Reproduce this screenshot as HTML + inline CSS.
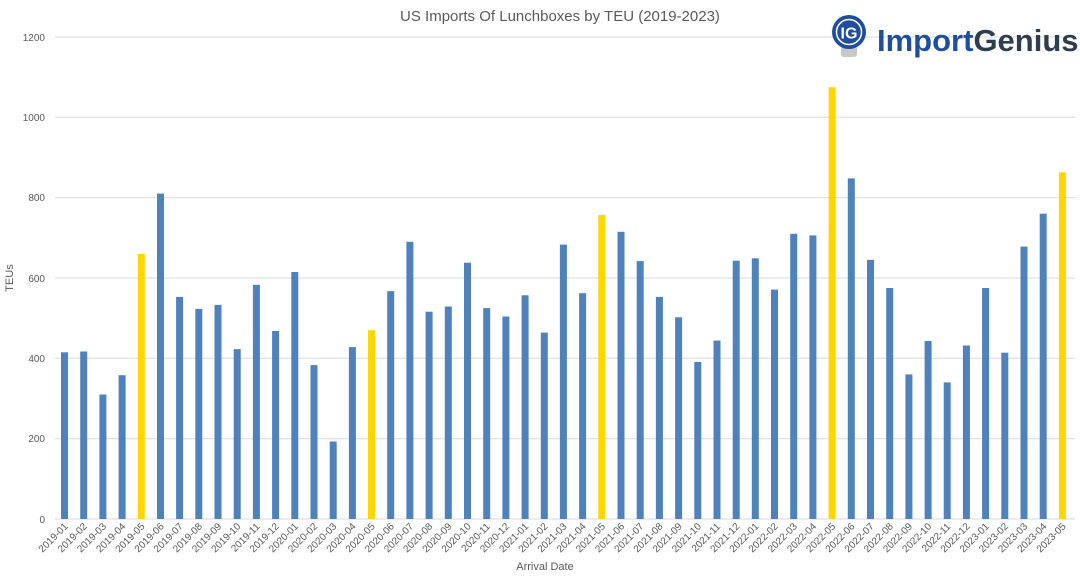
<!DOCTYPE html>
<html><head><meta charset="utf-8"><style>
body{margin:0;background:#fff;}
svg text{font-family:"Liberation Sans",sans-serif;}
</style></head><body>
<svg width="1080" height="574" viewBox="0 0 1080 574" xmlns="http://www.w3.org/2000/svg">
<rect width="1080" height="574" fill="#fff"/>
<text x="560" y="21" font-size="15" fill="#595959" text-anchor="middle">US Imports Of Lunchboxes by TEU (2019-2023)</text>
<g stroke="#d9d9d9" stroke-width="1">
<line x1="55" x2="1075" y1="37" y2="37"/><line x1="55" x2="1075" y1="117.3" y2="117.3"/><line x1="55" x2="1075" y1="197.6" y2="197.6"/><line x1="55" x2="1075" y1="278" y2="278"/><line x1="55" x2="1075" y1="358.3" y2="358.3"/><line x1="55" x2="1075" y1="438.7" y2="438.7"/><line x1="55" x2="1075" y1="519" y2="519"/>
</g>
<g font-size="10" fill="#595959" text-anchor="end">
<text x="45" y="41">1200</text><text x="45" y="121">1000</text><text x="45" y="201">800</text><text x="45" y="282">600</text><text x="45" y="362">400</text><text x="45" y="442">200</text><text x="45" y="523">0</text>
</g>
<text transform="translate(13,278) rotate(-90)" font-size="11" fill="#595959" text-anchor="middle">TEUs</text>
<text x="545" y="570" font-size="11" fill="#595959" text-anchor="middle">Arrival Date</text>
<g fill="#4f81bd">
<rect x="61" y="352.3" width="7" height="166.7"/>
<rect x="80.2" y="351.5" width="7" height="167.5"/>
<rect x="99.4" y="394.5" width="7" height="124.5"/>
<rect x="118.6" y="375.2" width="7" height="143.8"/>
<rect x="137.8" y="253.9" width="7" height="265.1" fill="#ffd700"/>
<rect x="157" y="193.6" width="7" height="325.4"/>
<rect x="176.1" y="296.9" width="7" height="222.1"/>
<rect x="195.3" y="308.9" width="7" height="210.1"/>
<rect x="214.5" y="304.9" width="7" height="214.1"/>
<rect x="233.7" y="349.1" width="7" height="169.9"/>
<rect x="252.9" y="284.8" width="7" height="234.2"/>
<rect x="272.1" y="331" width="7" height="188"/>
<rect x="291.3" y="272" width="7" height="247"/>
<rect x="310.5" y="365.1" width="7" height="153.9"/>
<rect x="329.7" y="441.5" width="7" height="77.5"/>
<rect x="348.9" y="347.1" width="7" height="171.9"/>
<rect x="368" y="330.2" width="7" height="188.8" fill="#ffd700"/>
<rect x="387.2" y="291.2" width="7" height="227.8"/>
<rect x="406.4" y="241.8" width="7" height="277.2"/>
<rect x="425.6" y="311.7" width="7" height="207.3"/>
<rect x="444.8" y="306.5" width="7" height="212.5"/>
<rect x="464" y="262.7" width="7" height="256.3"/>
<rect x="483.2" y="308.1" width="7" height="210.9"/>
<rect x="502.4" y="316.5" width="7" height="202.5"/>
<rect x="521.6" y="295.3" width="7" height="223.7"/>
<rect x="540.8" y="332.6" width="7" height="186.4"/>
<rect x="559.9" y="244.6" width="7" height="274.4"/>
<rect x="579.1" y="293.2" width="7" height="225.8"/>
<rect x="598.3" y="214.9" width="7" height="304.1" fill="#ffd700"/>
<rect x="617.5" y="231.8" width="7" height="287.2"/>
<rect x="636.7" y="261.1" width="7" height="257.9"/>
<rect x="655.9" y="296.9" width="7" height="222.1"/>
<rect x="675.1" y="317.3" width="7" height="201.7"/>
<rect x="694.3" y="361.9" width="7" height="157.1"/>
<rect x="713.5" y="340.6" width="7" height="178.4"/>
<rect x="732.7" y="260.7" width="7" height="258.3"/>
<rect x="751.8" y="258.3" width="7" height="260.7"/>
<rect x="771" y="289.6" width="7" height="229.4"/>
<rect x="790.2" y="233.8" width="7" height="285.2"/>
<rect x="809.4" y="235.4" width="7" height="283.6"/>
<rect x="828.6" y="87.2" width="7" height="431.8" fill="#ffd700"/>
<rect x="847.8" y="178.4" width="7" height="340.6"/>
<rect x="867" y="259.9" width="7" height="259.1"/>
<rect x="886.2" y="288" width="7" height="231"/>
<rect x="905.4" y="374.4" width="7" height="144.6"/>
<rect x="924.6" y="341" width="7" height="178"/>
<rect x="943.7" y="382.4" width="7" height="136.6"/>
<rect x="962.9" y="345.5" width="7" height="173.5"/>
<rect x="982.1" y="288" width="7" height="231"/>
<rect x="1001.3" y="352.7" width="7" height="166.3"/>
<rect x="1020.5" y="246.6" width="7" height="272.4"/>
<rect x="1039.7" y="213.7" width="7" height="305.3"/>
<rect x="1058.9" y="172.3" width="7" height="346.7" fill="#ffd700"/>
</g>
<g font-size="10" fill="#595959" text-anchor="end">
<text transform="translate(68.5,527) rotate(-45)">2019-01</text>
<text transform="translate(87.7,527) rotate(-45)">2019-02</text>
<text transform="translate(106.9,527) rotate(-45)">2019-03</text>
<text transform="translate(126.1,527) rotate(-45)">2019-04</text>
<text transform="translate(145.3,527) rotate(-45)">2019-05</text>
<text transform="translate(164.5,527) rotate(-45)">2019-06</text>
<text transform="translate(183.6,527) rotate(-45)">2019-07</text>
<text transform="translate(202.8,527) rotate(-45)">2019-08</text>
<text transform="translate(222,527) rotate(-45)">2019-09</text>
<text transform="translate(241.2,527) rotate(-45)">2019-10</text>
<text transform="translate(260.4,527) rotate(-45)">2019-11</text>
<text transform="translate(279.6,527) rotate(-45)">2019-12</text>
<text transform="translate(298.8,527) rotate(-45)">2020-01</text>
<text transform="translate(318,527) rotate(-45)">2020-02</text>
<text transform="translate(337.2,527) rotate(-45)">2020-03</text>
<text transform="translate(356.4,527) rotate(-45)">2020-04</text>
<text transform="translate(375.5,527) rotate(-45)">2020-05</text>
<text transform="translate(394.7,527) rotate(-45)">2020-06</text>
<text transform="translate(413.9,527) rotate(-45)">2020-07</text>
<text transform="translate(433.1,527) rotate(-45)">2020-08</text>
<text transform="translate(452.3,527) rotate(-45)">2020-09</text>
<text transform="translate(471.5,527) rotate(-45)">2020-10</text>
<text transform="translate(490.7,527) rotate(-45)">2020-11</text>
<text transform="translate(509.9,527) rotate(-45)">2020-12</text>
<text transform="translate(529.1,527) rotate(-45)">2021-01</text>
<text transform="translate(548.3,527) rotate(-45)">2021-02</text>
<text transform="translate(567.4,527) rotate(-45)">2021-03</text>
<text transform="translate(586.6,527) rotate(-45)">2021-04</text>
<text transform="translate(605.8,527) rotate(-45)">2021-05</text>
<text transform="translate(625,527) rotate(-45)">2021-06</text>
<text transform="translate(644.2,527) rotate(-45)">2021-07</text>
<text transform="translate(663.4,527) rotate(-45)">2021-08</text>
<text transform="translate(682.6,527) rotate(-45)">2021-09</text>
<text transform="translate(701.8,527) rotate(-45)">2021-10</text>
<text transform="translate(721,527) rotate(-45)">2021-11</text>
<text transform="translate(740.2,527) rotate(-45)">2021-12</text>
<text transform="translate(759.3,527) rotate(-45)">2022-01</text>
<text transform="translate(778.5,527) rotate(-45)">2022-02</text>
<text transform="translate(797.7,527) rotate(-45)">2022-03</text>
<text transform="translate(816.9,527) rotate(-45)">2022-04</text>
<text transform="translate(836.1,527) rotate(-45)">2022-05</text>
<text transform="translate(855.3,527) rotate(-45)">2022-06</text>
<text transform="translate(874.5,527) rotate(-45)">2022-07</text>
<text transform="translate(893.7,527) rotate(-45)">2022-08</text>
<text transform="translate(912.9,527) rotate(-45)">2022-09</text>
<text transform="translate(932.1,527) rotate(-45)">2022-10</text>
<text transform="translate(951.2,527) rotate(-45)">2022-11</text>
<text transform="translate(970.4,527) rotate(-45)">2022-12</text>
<text transform="translate(989.6,527) rotate(-45)">2023-01</text>
<text transform="translate(1008.8,527) rotate(-45)">2023-02</text>
<text transform="translate(1028,527) rotate(-45)">2023-03</text>
<text transform="translate(1047.2,527) rotate(-45)">2023-04</text>
<text transform="translate(1066.4,527) rotate(-45)">2023-05</text>
</g>
<!-- logo -->
<rect x="841" y="45" width="16" height="12" rx="3" fill="#c8c8c8"/>
<circle cx="849" cy="32" r="17" fill="#1f4e9f"/>
<circle cx="849" cy="32" r="12.5" fill="none" stroke="#fff" stroke-width="1.5"/>
<text x="849" y="38.5" font-size="16" font-weight="bold" fill="#fff" text-anchor="middle">IG</text>
<text x="877" y="51" font-size="31" font-weight="bold" fill="#1f4e9f">Import<tspan fill="#2d3e50">Genius</tspan></text>
</svg>
</body></html>
